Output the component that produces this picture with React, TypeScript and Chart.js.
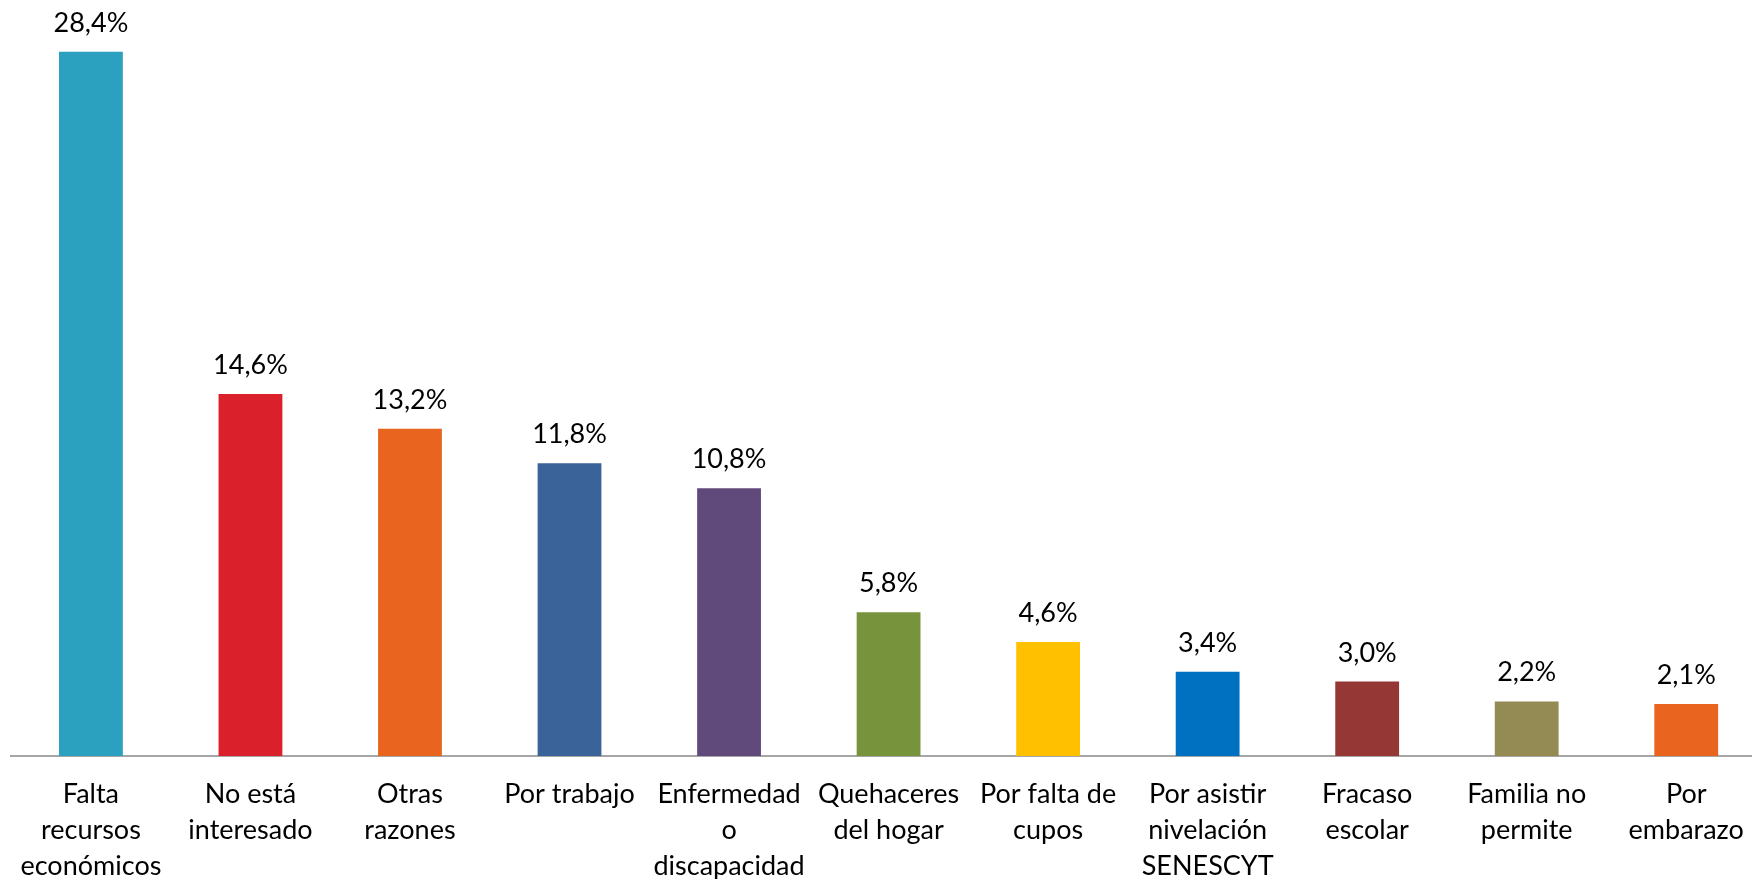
import React, { useEffect, useRef } from "react";
import { Chart, registerables } from "chart.js";

Chart.register(...registerables);

const categories: string[][] = [
  ["Falta", "recursos", "económicos"],
  ["No está", "interesado"],
  ["Otras", "razones"],
  ["Por trabajo"],
  ["Enfermedad", "o", "discapacidad"],
  ["Quehaceres", "del hogar"],
  ["Por falta de", "cupos"],
  ["Por asistir", "nivelación", "SENESCYT"],
  ["Fracaso", "escolar"],
  ["Familia no", "permite"],
  ["Por", "embarazo"],
];

const values: number[] = [28.4, 14.6, 13.2, 11.8, 10.8, 5.8, 4.6, 3.4, 3.0, 2.2, 2.1];

const barColors: string[] = [
  "#2CA1BF",
  "#DA202A",
  "#E8641F",
  "#3A6399",
  "#5F4A7B",
  "#77933C",
  "#FFC000",
  "#0070C0",
  "#953735",
  "#948A54",
  "#E8641F",
];

const formatValue = (v: number) => v.toFixed(1).replace(".", ",") + "%";

const valueLabelPlugin = {
  id: "valueLabels",
  afterDatasetsDraw(chart: any) {
    const ctx = chart.ctx;
    const meta = chart.getDatasetMeta(0);
    ctx.save();
    ctx.font = "27px Lato";
    ctx.fillStyle = "#000000";
    ctx.textAlign = "center";
    ctx.textBaseline = "alphabetic";
    meta.data.forEach((el: any, i: number) => {
      ctx.fillText(formatValue(values[i]), el.x, el.y - 20);
    });
    ctx.restore();
  },
};

export default function App() {
  const ref = useRef<HTMLCanvasElement | null>(null);

  useEffect(() => {
    document.body.style.margin = "0";
    if (!ref.current) return;
    const chart = new Chart(ref.current, {
      type: "bar",
      data: {
        labels: categories,
        datasets: [
          {
            data: values,
            backgroundColor: barColors,
            barPercentage: 0.8,
            categoryPercentage: 0.5,
          },
        ],
      },
      options: {
        responsive: false,
        animation: false,
        layout: { padding: { left: 10, right: 10, top: 12, bottom: 0 } },
        plugins: {
          legend: { display: false },
          tooltip: { enabled: false },
        },
        scales: {
          x: {
            grid: { display: false, drawTicks: false },
            border: { display: true, color: "#A6A6A6", width: 2 },
            afterFit: (scale: any) => {
              scale.height = 123;
            },
            ticks: {
              color: "#000000",
              font: { family: "Lato", size: 27, lineHeight: "36px" as any },
              padding: 20,
              maxRotation: 0,
              autoSkip: false,
            },
          },
          y: {
            display: false,
            min: 0,
            max: 30,
          },
        },
      },
      plugins: [valueLabelPlugin],
    });
    return () => chart.destroy();
  }, []);

  return (
    <div style={{ width: 1752, height: 879, overflow: "hidden" }}>
      <canvas ref={ref} width={1776} height={879} style={{ display: "block" }} />
    </div>
  );
}
